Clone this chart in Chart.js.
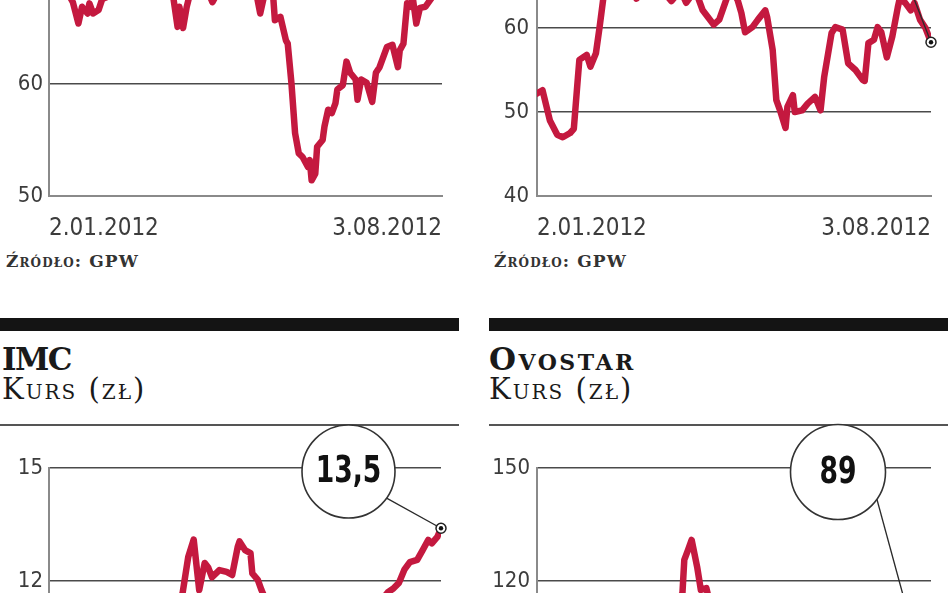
<!DOCTYPE html>
<html><head><meta charset="utf-8">
<script src="https://cdn.jsdelivr.net/npm/chart.js@4.4.0/dist/chart.umd.min.js"></script>
<style>
html,body{margin:0;padding:0;background:#fff;}
body{width:948px;height:593px;overflow:hidden;position:relative;}
.abs{position:absolute;white-space:nowrap;}
canvas{position:absolute;}
.src{font-family:'DejaVu Serif',serif;font-weight:bold;font-variant:small-caps;font-size:17px;line-height:17px;letter-spacing:1.1px;color:#333;}
.ttl{font-family:'DejaVu Serif',serif;font-weight:bold;font-variant:small-caps;font-size:31px;line-height:31px;color:#1a1a1a;}
.sub{font-family:'DejaVu Serif',serif;font-variant:small-caps;font-size:29px;line-height:29px;letter-spacing:2px;color:#1a1a1a;}
.bar{background:#141414;height:13px;top:318px;width:459px;}
.rule{background:#555;height:2px;top:424px;width:459px;}
</style>
</head><body>
<div class="abs src" style="left:6px;top:252.5px;">Źródło: GPW</div>
<div class="abs src" style="left:494px;top:252.5px;">Źródło: GPW</div>
<div class="abs bar" style="left:0;"></div>
<div class="abs bar" style="left:489px;"></div>
<div class="abs ttl" style="left:2px;top:344px;letter-spacing:-1.5px;">IMC</div>
<div class="abs ttl" style="left:489px;top:344px;letter-spacing:2.5px;">Ovostar</div>
<div class="abs sub" style="left:2px;top:375px;">Kurs (zł)</div>
<div class="abs sub" style="left:489px;top:375px;">Kurs (zł)</div>
<div class="abs rule" style="left:0;"></div>
<div class="abs rule" style="left:489px;"></div>

<canvas id="tl" width="460" height="300" style="left:0;top:-60px;"></canvas>
<canvas id="tr" width="474" height="320" style="left:474px;top:-80px;"></canvas>
<canvas id="bl" width="460" height="431" style="left:0;top:420px;"></canvas>
<canvas id="br" width="474" height="431" style="left:474px;top:420px;"></canvas>

<script>
// x axis: calendar days counted from 2.01.2012
const xTickDays = [0, 214];
const xTickLabels = ['2.01.2012', '3.08.2012'];

// top-left panel
const tlDays = [0,3,7,10,13,16,18,21,22,24,27,29,32,36,41,47,52,58,63,67,70,71,73,75,77,81,86,89,93,99,104,109,113,115,118,120,122,123,126,129,130,132,134,136,138,141,142,143,145,146,149,150,152,154,156,157,160,162,164,167,168,170,173,176,178,180,184,187,190,191,193,195,197,198,200,202,205,208,211,214];
const tlPrices = [69,70,68.5,68.2,67.3,65.4,66.9,66.3,67.2,66.3,66.6,67.6,67.8,69,70,69.5,70.5,70,69,68.5,65.1,66.9,65,66.9,68.2,69,68.5,67.3,68.5,69.5,70,69,68,66.3,68.5,69,68,65.7,66,63.9,63.6,60.1,55.6,53.8,53.5,52.6,53.2,51.4,52,54.4,55,56.2,57.7,57.4,58.3,59.5,59.9,62,61,60.4,58.6,60.4,60.1,58.4,61,61.5,63.3,63.5,61.5,63,63.6,67.2,66.9,67.8,65.4,66.8,66.9,67.6,68.5,69];
const tlTicks = [50, 60, 70];

// top-right panel
const trDays = [0,3,7,11,14,18,20,22,23,27,29,32,34,36,40,42,48,54,61,68,73,78,81,86,90,96,99,103,106,109,111,113,117,120,124,125,128,130,132,135,136,139,140,144,147,151,154,156,160,162,166,169,173,177,178,180,183,185,187,190,193,196,197,200,203,205,208,211,214];
const trPrices = [52.2,52.6,49,47.3,47,47.5,48,53.5,56.2,56.8,55.4,57,60.1,63.5,65,63.8,65.5,63.5,65,64.5,63.2,64.5,63,64.5,62.1,60.4,61,63.5,64.5,63.3,61.8,59.5,60.1,61,62.1,61.3,57.4,51.4,50.2,48.1,50.6,52,50,50.2,51,51.8,50.2,54.2,59.4,60.1,59.8,55.8,55,53.8,53.7,58.2,58.6,60.1,59.5,56.5,59,62.5,63.5,63,62.1,63,61,60,58.3];
const trTicks = [40, 50, 60, 70];
const trLast = '58,3';

// IMC
const imcDays = [0,4,8,12,16,20,25,30,35,40,45,50,55,60,64,68,71,73,76,79,81,82,85,87,89,93,97,100,103,104,107,110,111,114,116,120,125,130,135,140,145,150,155,160,165,170,175,180,185,188,191,194,197,201,204,207,209,212,214];
const imcPrices = [10.9,10.6,10.8,10.4,10.7,11.0,10.8,10.5,10.7,11.1,10.9,11.2,11.0,11.3,11.1,11.4,11.3,11.7,12.64,13.1,12.2,11.76,12.48,12.35,12.1,12.29,12.24,12.16,12.9,13.05,12.82,12.74,12.2,12.03,11.76,11.3,11.0,10.8,10.6,10.9,10.7,10.5,10.8,11.0,10.9,11.2,11.1,11.4,11.7,11.8,11.95,12.3,12.5,12.56,12.82,13.09,13.0,13.17,13.4];
const imcTicks = [6, 9, 12, 15];
const imcLast = '13,5';

// Ovostar
const ovoDays = [0,5,10,15,20,25,30,35,40,45,50,55,60,65,70,75,79,80,82,84,87,89,92,94,98,103,108,113,118,123,128,133,138,143,148,153,158,163,168,173,178,183,188,193,198,203,208,214];
const ovoPrices = [104,101,106,103,99,102,108,105,110,107,112,109,106,111,108,113,116.8,125.6,128.2,130.9,123.7,117.6,118.1,114,110,112,107,104,106,102,99,101,97,100,96,98,95,97,93,95,92,94,91,93,90,92,90,89];
const ovoTicks = [60, 90, 120, 150];
const ovoLast = '89';

const RED = '#c4193f';
const TICK_COLOR = '#3c3c3c';
const COND = "'DejaVu Sans Condensed', 'DejaVu Sans', sans-serif";

const calloutPlugin = {
  id: 'callout',
  afterDatasetsDraw(chart, args, opts) {
    const meta = chart.getDatasetMeta(0);
    const pt = meta.data[meta.data.length - 1];
    const ctx = chart.ctx;
    ctx.save();
    if (opts && opts.text) {
      const a = 35 * Math.PI / 180;
      ctx.beginPath();
      ctx.moveTo(opts.cx + Math.cos(a) * opts.r, opts.cy + Math.sin(a) * opts.r);
      ctx.lineTo(pt.x, pt.y);
      ctx.strokeStyle = '#2a2a2a'; ctx.lineWidth = 1.3; ctx.stroke();
      ctx.beginPath();
      ctx.arc(opts.cx, opts.cy, opts.r, 0, Math.PI * 2);
      ctx.fillStyle = '#fff'; ctx.fill();
      ctx.lineWidth = 1.6; ctx.strokeStyle = '#333'; ctx.stroke();
      ctx.save();
      ctx.translate(opts.cx, opts.cy + 1);
      ctx.scale(0.8, 1);
      ctx.fillStyle = '#111';
      ctx.font = 'bold 37px ' + COND;
      ctx.textAlign = 'center'; ctx.textBaseline = 'middle';
      ctx.fillText(opts.text, 0, 0);
      ctx.restore();
    }
    ctx.beginPath(); ctx.arc(pt.x, pt.y, 5, 0, Math.PI * 2);
    ctx.fillStyle = '#fff'; ctx.fill();
    ctx.lineWidth = 1.5; ctx.strokeStyle = '#222'; ctx.stroke();
    ctx.beginPath(); ctx.arc(pt.x, pt.y, 2.2, 0, Math.PI * 2);
    ctx.fillStyle = '#111'; ctx.fill();
    ctx.restore();
  }
};

function makeChart(id, days, prices, ticks, cfg) {
  return new Chart(document.getElementById(id), {
    type: 'line',
    data: { datasets: [{
      data: days.map((d, i) => ({ x: d, y: prices[i] })),
      borderColor: RED, borderWidth: 6.5, pointRadius: 0, tension: 0,
      borderJoinStyle: 'round', borderCapStyle: 'round', fill: false
    }] },
    options: {
      responsive: false, animation: false, events: [],
      layout: { padding: { top: cfg.padTop, right: cfg.padRight, left: 0, bottom: 0 } },
      plugins: { legend: { display: false }, tooltip: { enabled: false }, callout: cfg.callout || {} },
      scales: {
        x: {
          type: 'linear', min: xTickDays[0], max: xTickDays[xTickDays.length - 1],
          grid: { display: false },
          border: { display: true, color: '#8a8a8a', width: 2 },
          afterBuildTicks: s => { s.ticks = xTickDays.map(v => ({ value: v })); },
          afterFit: s => { s.height = 44; s.paddingLeft = 0; s.paddingRight = 0; },
          ticks: {
            align: 'inner', maxRotation: 0, autoSkip: false, padding: 10,
            color: TICK_COLOR, font: { family: COND, size: 24 },
            callback: v => { const i = xTickDays.indexOf(v); return i >= 0 ? xTickLabels[i] : ''; }
          }
        },
        y: {
          min: ticks[0], max: ticks[ticks.length - 1],
          afterBuildTicks: s => { s.ticks = ticks.map(v => ({ value: v })); },
          afterFit: s => { s.width = cfg.axisW; s.paddingTop = 0; s.paddingBottom = 0; },
          ticks: { padding: cfg.tickPad, color: TICK_COLOR, font: { family: COND, size: 22 } },
          grid: { color: '#4a4a4a', lineWidth: 1.4, drawTicks: false },
          border: { display: true, color: '#8a8a8a', width: 2 }
        }
      }
    },
    plugins: [calloutPlugin]
  });
}

makeChart('tl', tlDays, tlPrices, tlTicks, { padTop: 32, padRight: 18, axisW: 49, tickPad: 6 });
makeChart('tr', trDays, trPrices, trTicks, { padTop: 24, padRight: 17, axisW: 63, tickPad: 8,
  callout: { text: trLast, cx: 393, cy: 30, r: 47 } });
makeChart('bl', imcDays, imcPrices, imcTicks, { padTop: 48, padRight: 19, axisW: 49, tickPad: 6,
  callout: { text: imcLast, cx: 348.5, cy: 51.5, r: 46.5 } });
makeChart('br', ovoDays, ovoPrices, ovoTicks, { padTop: 48, padRight: 17, axisW: 63, tickPad: 7,
  callout: { text: ovoLast, cx: 364, cy: 52, r: 47.5 } });
</script>
</body></html>
